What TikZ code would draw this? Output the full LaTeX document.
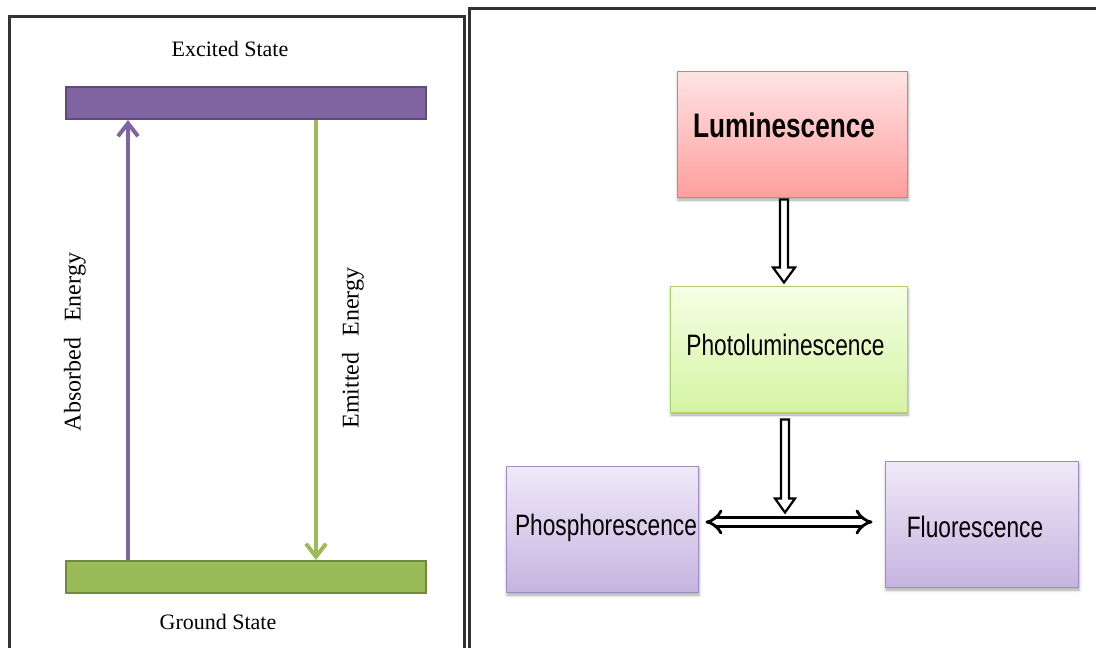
\documentclass[tikz,border=0pt]{standalone}
\usepackage{fontspec}
\usetikzlibrary{arrows.meta,calc,shadows.blur}
\setmainfont{Liberation Serif}
\newfontfamily\narrowsans[FakeStretch=0.77]{Liberation Sans}

\definecolor{framegray}{HTML}{333333}
\definecolor{exfill}{HTML}{8064A2}
\definecolor{exdraw}{HTML}{5E4A7C}
\definecolor{gsfill}{HTML}{9BBB59}
\definecolor{gsdraw}{HTML}{71893F}
\definecolor{lumtop}{HTML}{FFE4E4}
\definecolor{lumbot}{HTML}{FF9E9E}
\definecolor{lumdraw}{HTML}{DA7B7B}
\definecolor{phtop}{HTML}{F4FFE4}
\definecolor{phbot}{HTML}{D6F4A4}
\definecolor{phdraw}{HTML}{A9D46A}
\definecolor{vitop}{HTML}{EFE9F8}
\definecolor{vibot}{HTML}{C6B4E0}
\definecolor{vidraw}{HTML}{9F8CC6}

\begin{document}
\begin{tikzpicture}[x=1pt,y=-1pt,
  panel/.style={draw=framegray, line width=3pt},
  level/.style={minimum width=360pt, minimum height=32pt, inner sep=0pt, line width=2pt},
  statelabel/.style={font=\fontsize{22}{26}\selectfont, inner sep=0pt},
  energylabel/.style={font=\fontsize{24}{28}\selectfont, rotate=90, inner sep=0pt},
  transition/.style={line width=4pt, -{Straight Barb[length=13pt,width=20pt]}},
  card/.style={inner sep=0pt, line width=1pt,
    blur shadow={shadow xshift=1pt, shadow yshift=-3pt, shadow blur radius=3pt, shadow opacity=35}},
  cardtext/.style={font=\narrowsans\fontsize{29.5}{34}\selectfont, inner sep=0pt},
  hollow/.style={draw=black, fill=white, line width=2.2pt, line join=miter},
  twinarrow/.style={draw=black, line width=2.8pt, double=white, double distance=5.5pt, {Implies}-{Implies}}
]
\clip (0,0) rectangle (1096,648);

% panel frames
\draw[panel] (9,16) rectangle (464,670);
\draw[panel] (469,8) rectangle (1110,670);

% ---- energy level diagram ----
\node[level, fill=exfill, draw=exdraw] (excited) at (246,103) {};
\node[level, fill=gsfill, draw=gsdraw] (ground) at (246,577) {};
\node[statelabel] (exlabel) at (230,49) {Excited State};
\node[statelabel] (gslabel) at (218,622) {Ground State};

\coordinate (absx) at (128,0);
\coordinate (emix) at (316,0);
\draw[transition, draw=exfill] (absx |- ground.north) -- (absx |- excited.south);
\draw[transition, draw=gsfill] (emix |- excited.south) -- (emix |- ground.north);

\node[energylabel] (abslabel) at (75,342) {Absorbed\hspace{16pt}Energy};
\node[energylabel] (emilabel) at (353,348) {Emitted\hspace{16pt}Energy};

% ---- luminescence classification ----
\node[card, minimum width=230pt, minimum height=126pt, draw=lumdraw,
      top color=lumtop, bottom color=lumbot] (lum) at (792,134) {};
\node[cardtext, font=\narrowsans\bfseries\fontsize{34}{38}\selectfont] (lumt) at (784,125) {Luminescence};

\node[card, minimum width=237pt, minimum height=126pt, draw=phdraw,
      top color=phtop, bottom color=phbot] (photo) at (788.5,349) {};
\node[cardtext] (photot) at (785.5,345) {Photoluminescence};

\node[card, minimum width=192pt, minimum height=126pt, draw=vidraw,
      top color=vitop, bottom color=vibot] (phos) at (602,529) {};
\node[cardtext] (phost) at (606,528) {Phosphorescence};

\node[card, minimum width=193pt, minimum height=126pt, draw=vidraw,
      top color=vitop, bottom color=vibot] (fluo) at (981.5,524) {};
\node[cardtext] (fluot) at (975,527) {Fluorescence};

% hollow block arrows
\coordinate (a1s) at ($(lum.south)+(-8,2)$);
\coordinate (a1e) at ($(photo.north)+(-4.5,-3)$);
\draw[hollow] ($(a1s)+(-4,0)$) -- ($(a1e)+(-4,-15)$) -- ($(a1e)+(-11,-15)$) -- (a1e)
  -- ($(a1e)+(11,-15)$) -- ($(a1e)+(4,-15)$) -- ($(a1s)+(4,0)$) -- cycle;

\coordinate (hl) at ($(phos.east)+(7,-7)$);
\coordinate (hr) at ($(fluo.west)+(-12,-2)$);
\coordinate (a2s) at ($(photo.south)+(-3.5,7)$);
\coordinate (a2e) at ($(a2s)+(0,93)$);
\draw[hollow] ($(a2s)+(-4,0)$) -- ($(a2e)+(-4,-14)$) -- ($(a2e)+(-10,-14)$) -- (a2e)
  -- ($(a2e)+(10,-14)$) -- ($(a2e)+(4,-14)$) -- ($(a2s)+(4,0)$) -- cycle;

\draw[twinarrow] (hl) -- (hr);
\end{tikzpicture}
\end{document}
